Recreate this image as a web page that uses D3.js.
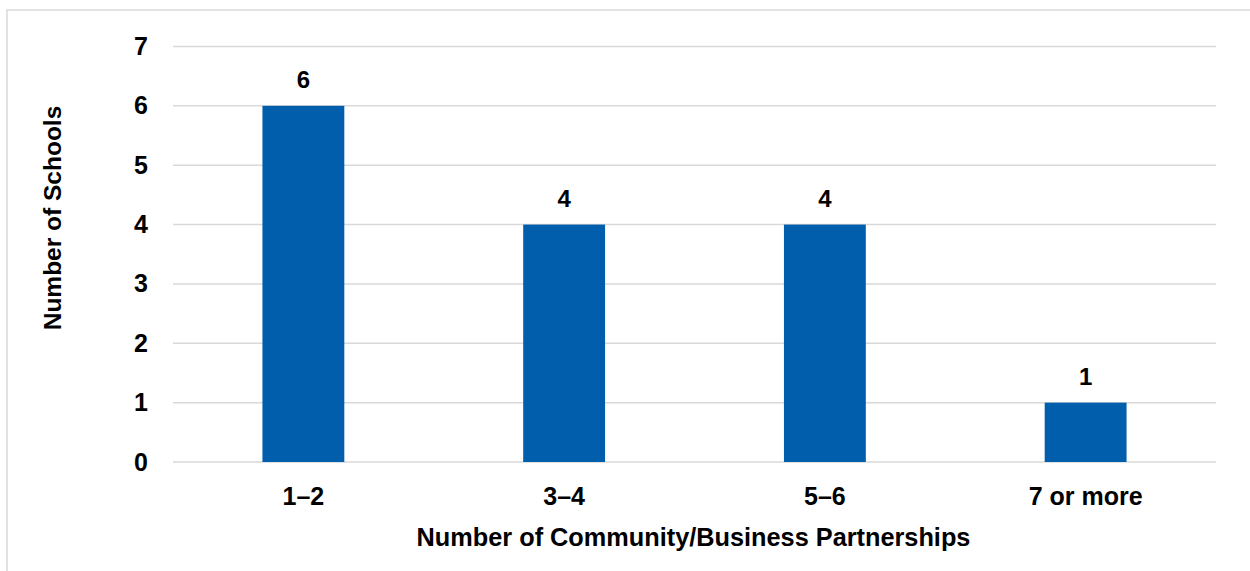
<!DOCTYPE html>
<html>
<head>
<meta charset="utf-8">
<script src="https://cdn.jsdelivr.net/npm/d3@7"></script>
<style>
  body { margin: 0; background: #fff; }
  svg { display: block; }
</style>
</head>
<body>
<svg id="chart"></svg>
<script>
// data
const categories = ["1\u20132", "3\u20134", "5\u20136", "7 or more"];
const schools = [6, 4, 4, 1];
const yTicks = [0, 1, 2, 3, 4, 5, 6, 7];

const W = 1250, H = 571;
const m = {left: 173, right: 34, top: 46.5, bottom: 109};
const FONT = "'Liberation Sans', Arial, sans-serif";

const svg = d3.select("#chart").attr("width", W).attr("height", H);

// chart border
svg.append("rect")
  .attr("x", 7).attr("y", 10)
  .attr("width", 1260).attr("height", 580)
  .attr("fill", "none")
  .attr("stroke", "#d9d9d9")
  .attr("stroke-width", 1.5);

const x = d3.scaleBand()
  .domain(categories)
  .range([m.left, W - m.right])
  .paddingInner(0.686)
  .paddingOuter(0.343);

const y = d3.scaleLinear()
  .domain([0, 7])
  .range([H - m.bottom, m.top]);

// gridlines
svg.append("g")
  .selectAll("line")
  .data(yTicks).enter()
  .append("line")
    .attr("x1", m.left).attr("x2", W - m.right)
    .attr("y1", d => y(d)).attr("y2", d => y(d))
    .attr("stroke", "#d9d9d9")
    .attr("stroke-width", 1.5);

// y axis labels
const yAxis = d3.axisLeft(y).tickValues(yTicks).tickFormat(d3.format("d")).tickSize(0).tickPadding(0);
const gy = svg.append("g")
  .attr("transform", `translate(${m.left - 25},0)`)
  .call(yAxis);
gy.select(".domain").remove();
gy.attr("font-size", null).attr("font-family", null);
gy.selectAll("text")
  .style("font-family", FONT)
  .style("font-size", "25px")
  .style("font-weight", "bold")
  .attr("fill", "#000");

// bars
svg.selectAll("rect.bar")
  .data(schools).enter()
  .append("rect")
    .attr("class", "bar")
    .attr("x", (d, i) => x(categories[i]))
    .attr("y", d => y(d))
    .attr("width", x.bandwidth())
    .attr("height", d => y(0) - y(d))
    .attr("fill", "#005EAC");

// value labels
svg.selectAll("text.val")
  .data(schools).enter()
  .append("text")
    .attr("class", "val")
    .attr("x", (d, i) => x(categories[i]) + x.bandwidth() / 2)
    .attr("y", d => y(d) - 18)
    .attr("text-anchor", "middle")
    .style("font-family", FONT)
    .style("font-size", "24px")
    .style("font-weight", "bold")
    .text(d => d);

// x axis labels
const xAxis = d3.axisBottom(x).tickSize(0).tickPadding(0);
const gx = svg.append("g")
  .attr("transform", `translate(0,${y(0) + 43})`)
  .call(xAxis);
gx.select(".domain").remove();
gx.attr("font-size", null).attr("font-family", null);
gx.selectAll("text")
  .attr("dy", 0)
  .style("font-family", FONT)
  .style("font-size", "25px")
  .style("font-weight", "bold")
  .attr("fill", "#000");

// axis titles
svg.append("text")
  .attr("x", (m.left + W - m.right) / 2 - 1)
  .attr("y", 546)
  .attr("text-anchor", "middle")
  .style("font-family", FONT)
  .style("font-size", "25.3px")
  .style("font-weight", "bold")
  .text("Number of Community/Business Partnerships");

svg.append("text")
  .attr("transform", `translate(61,218) rotate(-90)`)
  .attr("text-anchor", "middle")
  .style("font-family", FONT)
  .style("font-size", "24.5px")
  .style("font-weight", "bold")
  .text("Number of Schools");
</script>
</body>
</html>
